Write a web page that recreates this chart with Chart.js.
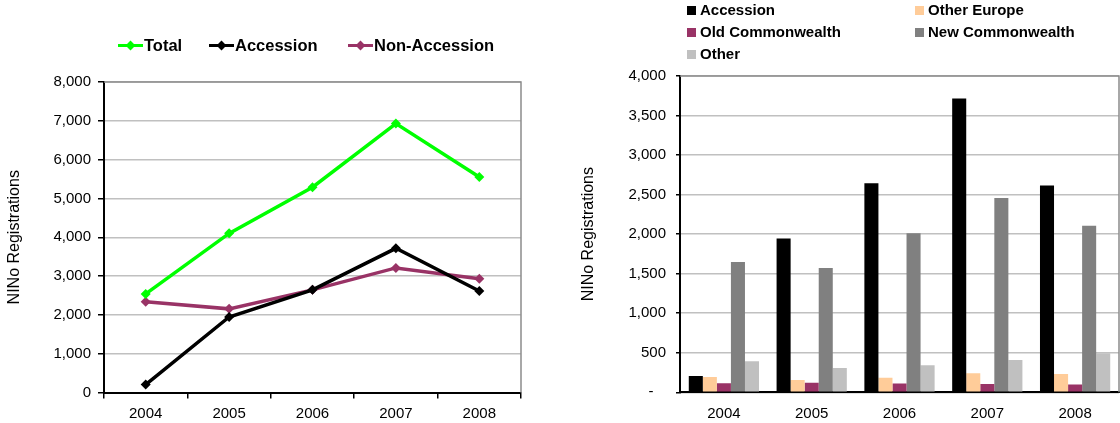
<!DOCTYPE html>
<html>
<head>
<meta charset="utf-8">
<script src="https://cdn.jsdelivr.net/npm/chart.js@4.4.1/dist/chart.umd.min.js"></script>
<style>
    body { margin: 0; background: #fff; font-family: "Liberation Sans", Arial, sans-serif; }
    #wrap { position: relative; width: 1120px; height: 423px; overflow: hidden; }
    canvas { position: absolute; top: 0; }
    #lineCanvas { left: 0; }
    #barCanvas { left: 560px; }
    .leg { position: absolute; display: flex; align-items: center; font-weight: bold; color: #000; white-space: nowrap; }
    .lineLeg { font-size: 16.5px; line-height: 20px; top: 35px; }
    .barLeg { font-size: 15px; line-height: 18px; }
    .ln { position: relative; display: inline-block; width: 25px; height: 3px; margin-right: 1px; }
    .ln i { position: absolute; left: 9px; top: -2px; width: 7px; height: 7px; transform: rotate(45deg); }
    .sq { display: inline-block; width: 9px; height: 9px; margin-right: 4px; }
</style>
</head>
<body>
<div id="wrap">
    <canvas id="lineCanvas" width="560" height="423"></canvas>
    <canvas id="barCanvas" width="560" height="423"></canvas>
</div>
<script>
// data
const years = ["2004", "2005", "2006", "2007", "2008"];
const totalRegs = [2540, 4100, 5290, 6930, 5550];
const accessionRegs = [205, 1945, 2645, 3715, 2615];
const nonAccessionRegs = [2340, 2155, 2645, 3210, 2930];
const otherEuropeRegs = [192, 154, 183, 242, 233];
const oldCommonwealthRegs = [113, 120, 112, 104, 100];
const newCommonwealthRegs = [1647, 1571, 2010, 2456, 2106];
const otherRegs = [392, 308, 342, 408, 495];

const lineYMax = 8000, lineYStep = 1000;
const barYMax = 4000, barYStep = 500;

const lineNames = ["Total", "Accession", "Non-Accession"];
const lineColors = ["#00ff00", "#000000", "#993366"];
const barNames = ["Accession", "Other Europe", "Old Commonwealth", "New Commonwealth", "Other"];
const barColors = ["#000000", "#ffcc99", "#993366", "#808080", "#c0c0c0"];

const FONT = "'Liberation Sans', Arial, sans-serif";
Chart.defaults.font.family = FONT;
Chart.defaults.color = "#000";
Chart.defaults.animation = false;

// grey frame on top and right of the plot area
const framePlugin = {
    id: "frame",
    afterDraw(chart) {
        const { ctx, chartArea: a } = chart;
        ctx.save();
        ctx.strokeStyle = "#8c8c8c";
        ctx.lineWidth = 1.5;
        ctx.beginPath();
        ctx.moveTo(a.left, a.top);
        ctx.lineTo(a.right, a.top);
        ctx.lineTo(a.right, a.bottom);
        ctx.stroke();
        ctx.restore();
    }
};

function fmt(v) {
    return v.toLocaleString("en-US");
}

// legends
const wrap = document.getElementById("wrap");
const lineLegLeft = [118, 209, 348];
lineNames.forEach((name, i) => {
    const d = document.createElement("div");
    d.className = "leg lineLeg";
    d.style.left = lineLegLeft[i] + "px";
    d.innerHTML = `<span class="ln" style="background:${lineColors[i]}"><i style="background:${lineColors[i]}"></i></span>${name}`;
    wrap.appendChild(d);
});
const barLegPos = [[687, 1], [915, 1], [687, 23], [915, 23], [687, 45]];
barNames.forEach((name, i) => {
    const d = document.createElement("div");
    d.className = "leg barLeg";
    d.style.left = barLegPos[i][0] + "px";
    d.style.top = barLegPos[i][1] + "px";
    d.innerHTML = `<span class="sq" style="background:${barColors[i]}"></span>${name}`;
    wrap.appendChild(d);
});

// left: line chart
const lineSeries = [totalRegs, accessionRegs, nonAccessionRegs];
new Chart(document.getElementById("lineCanvas"), {
    type: "line",
    data: {
        labels: years,
        datasets: lineSeries.map((vals, i) => ({
            label: lineNames[i],
            data: vals,
            borderColor: lineColors[i],
            backgroundColor: lineColors[i],
            borderWidth: 3.5,
            pointStyle: "rectRot",
            pointRadius: 5,
            pointBorderWidth: 0,
            tension: 0
        }))
    },
    options: {
        responsive: false,
        layout: { padding: { top: 82, right: 39, left: 0, bottom: 0 } },
        plugins: { legend: { display: false }, tooltip: { enabled: false } },
        scales: {
            x: {
                offset: true,
                grid: { offset: true, drawOnChartArea: false, drawTicks: true, tickLength: 6, tickColor: "#000", lineWidth: 1.5 },
                border: { color: "#000", width: 2 },
                ticks: { font: { size: 15 }, padding: 6 },
                afterFit(s) { s.height = 30.5; }
            },
            y: {
                min: 0,
                max: lineYMax,
                grid: { color: "#c0c0c0", lineWidth: 1.5, tickLength: 6, tickColor: "#000" },
                border: { color: "#000", width: 2 },
                ticks: { stepSize: lineYStep, font: { size: 15 }, padding: 7, callback: v => fmt(v) },
                title: { display: true, text: "NINo Registrations", font: { size: 16 }, padding: { top: 5, bottom: 0 } },
                afterFit(s) { s.width = 104; }
            }
        }
    },
    plugins: [framePlugin]
});

// right: bar chart
const barSeries = [accessionRegs, otherEuropeRegs, oldCommonwealthRegs, newCommonwealthRegs, otherRegs];
new Chart(document.getElementById("barCanvas"), {
    type: "bar",
    data: {
        labels: years,
        datasets: barSeries.map((vals, i) => ({
            label: barNames[i],
            data: vals,
            backgroundColor: barColors[i],
            borderWidth: 0,
            barPercentage: 1,
            categoryPercentage: 0.8
        }))
    },
    options: {
        responsive: false,
        layout: { padding: { top: 76, right: 1, left: 0, bottom: 0 } },
        plugins: { legend: { display: false }, tooltip: { enabled: false } },
        scales: {
            x: {
                grid: { drawOnChartArea: false, drawTicks: false },
                border: { color: "#000", width: 2 },
                ticks: { font: { size: 15 }, padding: 13 },
                afterFit(s) { s.height = 30.7; }
            },
            y: {
                min: 0,
                max: barYMax,
                grid: { color: "#c0c0c0", lineWidth: 1.5, tickLength: 4, tickColor: "#000" },
                border: { color: "#000", width: 2 },
                ticks: { stepSize: barYStep, font: { size: 15 }, padding: 10, callback: v => (v === 0 ? "-   " : fmt(v)) },
                title: { display: true, text: "NINo Registrations", font: { size: 16 }, padding: { top: 19, bottom: 0 } },
                afterFit(s) { s.width = 120; }
            }
        }
    },
    plugins: [framePlugin]
});
</script>
</body>
</html>
